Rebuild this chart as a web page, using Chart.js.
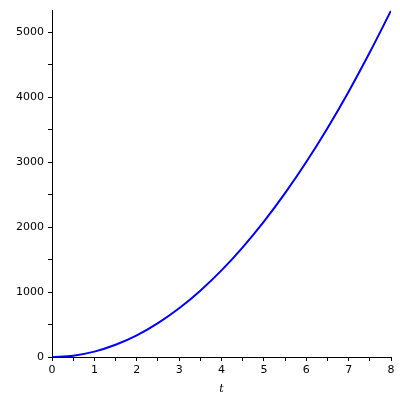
<!DOCTYPE html>
<html>
<head>
  <meta charset="utf-8">
  <title>t plot</title>
  <style>
    body { margin: 0; background: #fff; }
  </style>
</head>
<body>
  <canvas id="canvas" width="400" height="400"></canvas>

  <script src="https://cdn.jsdelivr.net/npm/chart.js"></script>
  <script>
    // valori
    const tValues = [0, 0.5, 1, 1.5, 2, 2.5, 3, 3.5, 4, 4.5, 5, 5.5, 6, 6.5, 7, 7.5, 8];
    const yValues = [0, 21, 83, 188, 333, 521, 750, 1021, 1333, 1688, 2083, 2521, 3000, 3521, 4083, 4688, 5330];

    // posizioni dei tick (anche quelli minori) e quelli con etichetta
    const xTicks = [0, 0.5, 1, 1.5, 2, 2.5, 3, 3.5, 4, 4.5, 5, 5.5, 6, 6.5, 7, 7.5, 8];
    const xTickLabels = [0, 1, 2, 3, 4, 5, 6, 7, 8];
    const yTicks = [0, 500, 1000, 1500, 2000, 2500, 3000, 3500, 4000, 4500, 5000];
    const yTickLabels = [0, 1000, 2000, 3000, 4000, 5000];

    const tickFont = { family: 'DejaVu Sans', size: 11 };

    const ctx = document.getElementById('canvas').getContext('2d');

    new Chart(ctx, {
      type: 'line',
      data: {
        datasets: [{
          data: tValues.map((t, i) => ({ x: t, y: yValues[i] })),
          borderColor: '#0000ff',
          borderWidth: 2,
          pointRadius: 0,
          tension: 0.4,
          cubicInterpolationMode: 'monotone',
          fill: false
        }]
      },
      options: {
        responsive: false,
        animation: false,
        layout: { padding: { top: 7, right: 9, left: 0, bottom: 0 } },
        plugins: {
          legend: { display: false },
          tooltip: { enabled: false }
        },
        scales: {
          x: {
            type: 'linear',
            min: 0,
            max: 8,
            afterBuildTicks: s => { s.ticks = xTicks.map(v => ({ value: v })); },
            afterFit: s => { s.height = 43; },
            ticks: {
              autoSkip: false,
              maxRotation: 0,
              padding: 3,
              color: '#000',
              font: tickFont,
              callback: v => xTickLabels.includes(v) ? String(v) : ''
            },
            grid: { drawOnChartArea: false, tickLength: 4, color: '#000' },
            border: { display: true, color: '#000', width: 1 },
            title: {
              display: true,
              text: 't',
              color: '#000',
              font: { family: 'DejaVu Serif', size: 11, style: 'italic' },
              padding: { top: 0, bottom: 4 }
            }
          },
          y: {
            type: 'linear',
            min: 0,
            max: 5330,
            afterBuildTicks: s => { s.ticks = yTicks.map(v => ({ value: v })); },
            afterFit: s => { s.width = 52; },
            ticks: {
              autoSkip: false,
              padding: 4,
              color: '#000',
              font: tickFont,
              callback: v => yTickLabels.includes(v) ? String(v) : ''
            },
            grid: { drawOnChartArea: false, tickLength: 4, color: '#000' },
            border: { display: true, color: '#000', width: 1 }
          }
        }
      }
    });
  </script>
</body>
</html>
